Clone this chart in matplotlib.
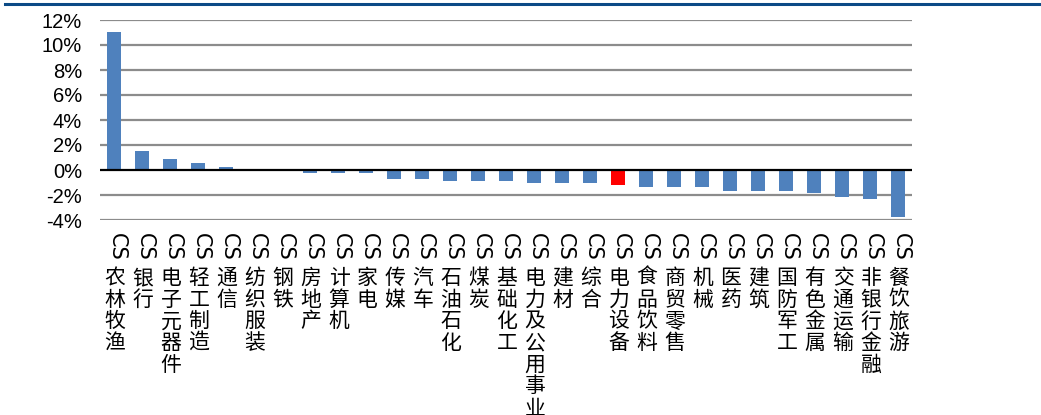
import matplotlib
matplotlib.use("Agg")
import matplotlib.pyplot as plt
from matplotlib.lines import Line2D

plt.rcParams['font.family'] = ['Noto Sans CJK SC', 'DejaVu Sans']

# industry names (CITIC level-1), prefix "CS" drawn separately
industries = ["农林牧渔", "银行", "电子元器件", "轻工制造", "通信", "纺织服装", "钢铁",
              "房地产", "计算机", "家电", "传媒", "汽车", "石油石化", "煤炭", "基础化工",
              "电力及公用事业", "建材", "综合", "电力设备", "食品饮料", "商贸零售", "机械",
              "医药", "建筑", "国防军工", "有色金属", "交通运输", "非银行金融", "餐饮旅游"]
returns = [11.0, 1.52, 0.88, 0.56, 0.25, 0.02, 0.02,
           -0.22, -0.22, -0.22, -0.72, -0.72, -0.88, -0.88, -0.88,
           -1.04, -1.04, -1.04, -1.2, -1.36, -1.36, -1.34,
           -1.68, -1.68, -1.68, -1.87, -2.13, -2.32, -3.73]
highlight = "电力设备"
yticks = [-4, -2, 0, 2, 4, 6, 8, 10, 12]

W, H = 1041, 415
fig = plt.figure(figsize=(W / 100, H / 100), dpi=100)
ax = fig.add_axes([100 / W, (H - 220) / H, 812 / W, 200 / H])

colors = ["#FF0000" if n == highlight else "#4F81BD" for n in industries]
x = list(range(len(industries)))
ax.bar(x, returns, width=0.5, color=colors, zorder=2)

ax.set_xlim(-0.5, len(industries) - 0.5)
ax.set_ylim(-4, 12)
ax.set_yticks(yticks)
ax.set_yticklabels([f"{t}%" for t in yticks], family="Liberation Sans", fontsize=14.5)
ax.tick_params(axis="y", length=0, pad=13)
ax.set_xticks([])
for s in ax.spines.values():
    s.set_visible(False)
for t in yticks:
    if t != 0:
        ax.axhline(t, color="#8C8C8C", lw=1.6, zorder=1)
ax.axhline(0, color="black", lw=1.6, zorder=3)

# category labels: rotated "CS" then stacked Chinese characters
for i, name in enumerate(industries):
    ax.annotate("CS", xy=(i, 0), xycoords=("data", "axes fraction"),
                xytext=(3, -13), textcoords="offset pixels",
                rotation=-90, ha="center", va="top", fontsize=15,
                family="DejaVu Sans", annotation_clip=False)
    for j, ch in enumerate(name):
        ax.annotate(ch, xy=(i, 0), xycoords=("data", "axes fraction"),
                    xytext=(1, -47 - j * 21.7), textcoords="offset pixels",
                    ha="center", va="top", fontsize=15,
                    annotation_clip=False)

fig.add_artist(Line2D([5 / W, 1], [1 - 4 / H, 1 - 4 / H], color="#0B4A86", lw=2.2))

fig.savefig("out.png", dpi=100)
